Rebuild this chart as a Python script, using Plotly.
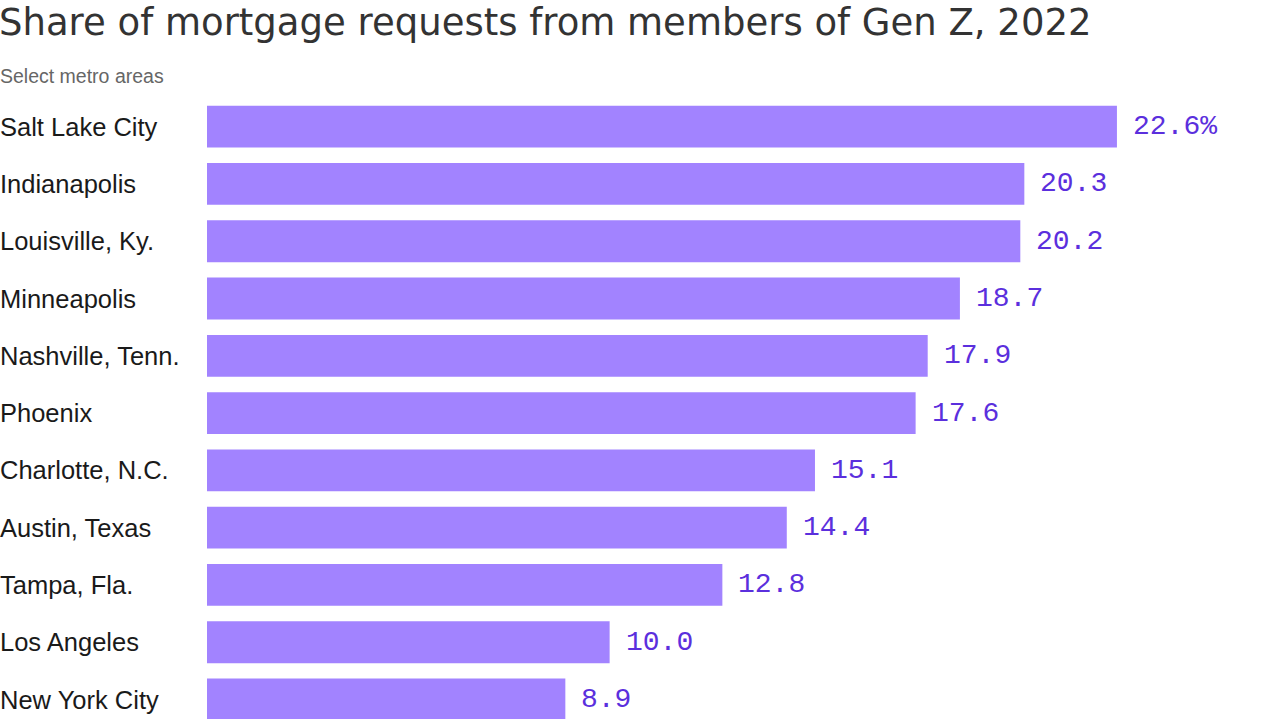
import plotly.graph_objects as go

cities = ["Salt Lake City", "Indianapolis", "Louisville, Ky.", "Minneapolis",
          "Nashville, Tenn.", "Phoenix", "Charlotte, N.C.", "Austin, Texas",
          "Tampa, Fla.", "Los Angeles", "New York City"]
values = [22.6, 20.3, 20.2, 18.7, 17.9, 17.6, 15.1, 14.4, 12.8, 10.0, 8.9]
value_labels = ["22.6%", "20.3", "20.2", "18.7", "17.9", "17.6", "15.1",
                "14.4", "12.8", "10.0", "8.9"]

title_text = "Share of mortgage requests from members of Gen Z, 2022"
subtitle_text = "Select metro areas"

BAR_COLOR = "#A283FF"
LABEL_COLOR = "#5B2FDD"

fig = go.Figure(go.Bar(
    x=values, y=cities, orientation="h",
    marker=dict(color=BAR_COLOR, line=dict(width=0)),
    hoverinfo="skip",
))

annotations = []
for c, v, t in zip(cities, values, value_labels):
    annotations.append(dict(
        x=v, y=c, xref="x", yref="y", text=t, showarrow=False,
        xanchor="left", yanchor="middle", xshift=14,
        font=dict(family="Liberation Mono, DejaVu Sans Mono, monospace",
                  size=28, color=LABEL_COLOR),
    ))
    annotations.append(dict(
        x=0, y=c, xref="paper", yref="y", text=c, showarrow=False,
        xanchor="left", yanchor="middle", xshift=-209,
        font=dict(family="Liberation Sans, Arial, sans-serif", size=25.5, color="#1a1a1a"),
    ))

annotations.append(dict(
    x=0, y=1, xref="paper", yref="paper", text=title_text, showarrow=False,
    xanchor="left", yanchor="top", xshift=-209, yshift=98, borderpad=0,
    font=dict(family="DejaVu Sans, sans-serif", size=37, color="#333333"),
))
annotations.append(dict(
    x=0, y=1, xref="paper", yref="paper", text=subtitle_text, showarrow=False,
    xanchor="left", yanchor="middle", xshift=-209, yshift=22,
    font=dict(family="Liberation Sans, Arial, sans-serif", size=19.5, color="#666666"),
))

fig.update_layout(
    width=1280, height=719,
    margin=dict(l=207, r=0, t=98, b=0),
    paper_bgcolor="white", plot_bgcolor="white",
    bargap=0.27,
    showlegend=False,
    xaxis=dict(range=[0, 26.65], visible=False, fixedrange=True),
    yaxis=dict(categoryorder="array", categoryarray=cities,
               range=[10.34, -0.5], visible=False, fixedrange=True),
    annotations=annotations,
)

fig.write_html("out.html", config={"displayModeBar": False},
               post_script="document.body.style.margin='0';document.body.style.overflow='hidden';")
